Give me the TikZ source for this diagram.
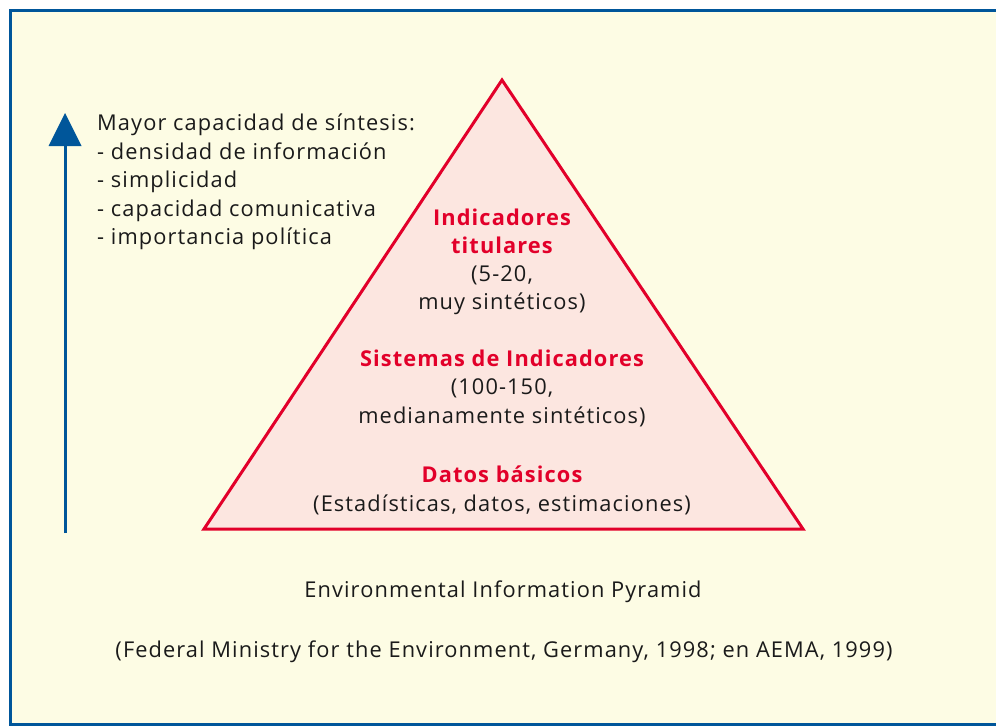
\documentclass[tikz,border=0pt]{standalone}
\usepackage{fontspec}
\setmainfont{Open Sans}[LetterSpace=5]
\usetikzlibrary{calc}
\begin{document}
\begin{tikzpicture}[x=1pt,y=-1pt,
  txt/.style={font=\fontsize{21.8}{28.5}\selectfont, inner sep=0pt, text=ink},
  head/.style={txt, text=pyred, font=\fontsize{21.8}{28.5}\selectfont\bfseries}]
\definecolor{paper}{HTML}{FDFCE4}
\definecolor{frame}{HTML}{00569A}
\definecolor{pyred}{HTML}{E2002A}
\definecolor{pyfill}{HTML}{FCE6E0}
\definecolor{ink}{HTML}{1A1A1A}
\useasboundingbox (0,0) rectangle (996,728);
% frame
\fill[white] (0,0) rectangle (996,728);
\draw[frame, fill=paper, line width=3pt] (10,10) rectangle (1001,724);
% vertical arrow
\coordinate (abot) at (65,533);
\coordinate (abase) at (65,146);
\coordinate (atip) at (65,113);
\draw[frame, line width=3pt] (abot) -- (abase);
\fill[frame] (atip) -- ($(abase)+(-16.5,0)$) -- ($(abase)+(16.5,0)$) -- cycle;
% pyramid
\coordinate (apex) at (502,80);
\coordinate (bl) at (204,529);
\coordinate (br) at (803,529);
\draw[pyred, fill=pyfill, line width=3pt, line join=miter] (apex) -- (bl) -- (br) -- cycle;
% list, one node per line, placed by baseline
\node[txt, anchor=base west] (l1) at (97,130.5) {Mayor capacidad de síntesis:};
\node[txt, anchor=base west] (l2) at (97,159) {- densidad de información};
\node[txt, anchor=base west] (l3) at (97,187.5) {- simplicidad};
\node[txt, anchor=base west] (l4) at (97,216) {- capacidad comunicativa};
\node[txt, anchor=base west] (l5) at (97,244.5) {- importancia política};
% levels
\node[head, anchor=base] (t1a) at (502,225) {Indicadores};
\node[head, anchor=base] (t1b) at (502,253) {titulares};
\node[txt, anchor=base] (t1c) at (502,281) {(5-20,};
\node[txt, anchor=base] (t1d) at (502,309) {muy sintéticos)};
\node[head, anchor=base] (t2a) at (502,366) {Sistemas de Indicadores};
\node[txt, anchor=base] (t2b) at (502,394.5) {(100-150,};
\node[txt, anchor=base] (t2c) at (502,423) {medianamente sintéticos)};
\node[head, anchor=base] (t3a) at (502,482) {Datos básicos};
\node[txt, anchor=base] (t3b) at (502,511) {(Estadísticas, datos, estimaciones)};
% captions
\node[txt, anchor=base] (cap) at (503,597) {Environmental Information Pyramid};
\node[txt, anchor=base] (src) at (504,657) {(Federal Ministry for the Environment, Germany, 1998; en AEMA, 1999)};
\end{tikzpicture}
\end{document}
